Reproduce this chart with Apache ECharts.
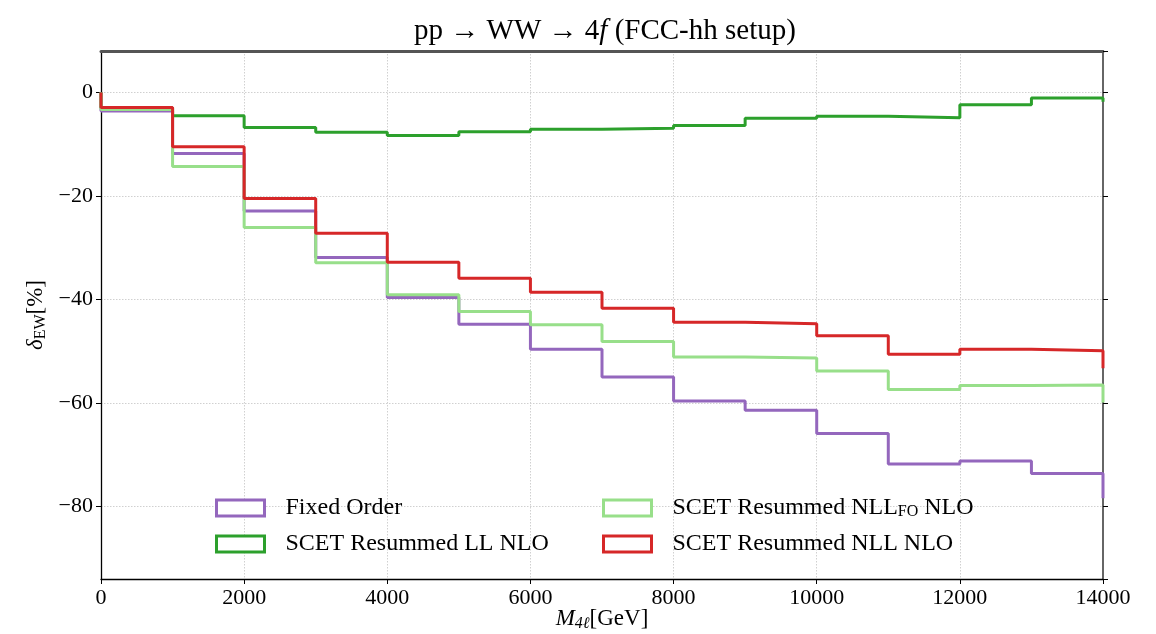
<!DOCTYPE html>
<html>
<head>
<meta charset="utf-8">
<title>pp → WW → 4f (FCC-hh setup)</title>
<script src="https://cdn.jsdelivr.net/npm/echarts@6/dist/echarts.min.js"></script>
<style>
  html, body { margin: 0; padding: 0; background: #ffffff; }
  #chart { width: 1156px; height: 634px; }
</style>
</head>
<body>
<div id="chart"></div>
<script>
// Lower edges of the M_4l bins (GeV)
const binLow = [0, 1000, 2000, 3000, 4000, 5000, 6000, 7000, 8000, 9000, 10000, 11000, 12000, 13000];
const binHigh = 14000;

// delta_EW [%] per bin; "tail" is the value of the bin that starts at 14000
const fixedOrder = [-3.6, -11.8, -22.9, -31.9, -39.6, -44.8, -49.6, -55.0, -59.6, -61.4, -65.9, -71.8, -71.2, -73.6];
const fixedOrderTail = -78.4;
const scetLL = [-3.0, -4.5, -6.8, -7.7, -8.3, -7.6, -7.1, -6.9, -6.4, -5.0, -4.6, -4.9, -2.4, -1.1];
const scetLLTail = -1.8;
const scetNLLFO = [-3.3, -14.3, -26.1, -32.9, -39.1, -42.3, -44.9, -48.1, -51.1, -51.3, -53.8, -57.4, -56.6, -56.5];
const scetNLLFOTail = -59.9;
const scetNLL = [-2.9, -10.5, -20.5, -27.2, -32.8, -35.9, -38.6, -41.7, -44.4, -44.7, -47.0, -50.6, -49.6, -49.9];
const scetNLLTail = -53.3;

const xTicks = [0, 2000, 4000, 6000, 8000, 10000, 12000, 14000];
const yTicks = [0, -20, -40, -60, -80];

const names = ['Fixed Order', 'SCET Resummed LL NLO', 'SCET Resummed NLL_FO NLO', 'SCET Resummed NLL NLO'];
const colors = ['#9467bd', '#2ca02c', '#98df8a', '#d62728'];

const FONT = '"Liberation Serif", "DejaVu Serif", serif';

// histogram outline: starts at 0 on the left edge, steps through each bin
function stepData(bins, tail) {
  const pts = [[binLow[0], 0]];
  binLow.forEach((x, i) => pts.push([x, bins[i]]));
  pts.push([binHigh, tail]);
  return pts;
}

const seriesSets = [
  [fixedOrder, fixedOrderTail],
  [scetLL, scetLLTail],
  [scetNLLFO, scetNLLFOTail],
  [scetNLL, scetNLLTail]
];

const series = seriesSets.map((s, i) => ({
  name: names[i],
  type: 'line',
  step: 'end',
  data: stepData(s[0], s[1]),
  symbol: 'none',
  lineStyle: { color: colors[i], width: 3 },
  itemStyle: { color: colors[i] },
  clip: true,
  animation: false,
  z: 2 + i
}));

function legendItem(i) {
  return {
    name: names[i],
    icon: 'rect',
    itemStyle: { color: '#ffffff', borderColor: colors[i], borderWidth: 3 }
  };
}

const legendRich = {
  g: { width: 16, fontFamily: FONT, fontSize: 24, lineHeight: 24 },
  n: { fontFamily: FONT, fontSize: 24, color: '#000', lineHeight: 24 },
  s: { fontFamily: FONT, fontSize: 16, color: '#000', lineHeight: 14, verticalAlign: 'bottom' }
};

function legendFormatter(name) {
  if (name.indexOf('_FO') >= 0) {
    return '{g|}{n|SCET Resummed NLL}{s|FO}{n| NLO}';
  }
  return '{g|}{n|' + name + '}';
}

const baseLegend = {
  orient: 'vertical',
  itemWidth: 48,
  itemHeight: 16,
  itemGap: 12,
  top: 491,
  selectedMode: false,
  formatter: legendFormatter,
  textStyle: { fontFamily: FONT, fontSize: 24, color: '#000', rich: legendRich }
};

const minus = v => (v < 0 ? '\u2212' + Math.abs(v) : String(v));

const option = {
  backgroundColor: '#ffffff',
  animation: false,
  title: {
    text: '{n|pp \u2192 WW \u2192 4}{i|f}{n| (FCC-hh setup)}',
    left: 600,
    top: 12,
    textAlign: 'center',
    textStyle: {
      fontWeight: 'normal',
      rich: {
        n: { fontFamily: FONT, fontSize: 29, fontWeight: 'normal', color: '#000' },
        i: { fontFamily: FONT, fontSize: 29, fontWeight: 'normal', fontStyle: 'italic', color: '#000' }
      }
    }
  },
  grid: { left: 101, right: 53, top: 51, bottom: 55, containLabel: false, outerBoundsMode: 'none' },
  legend: [
    Object.assign({}, baseLegend, { left: 210, data: [legendItem(0), legendItem(1)] }),
    Object.assign({}, baseLegend, { left: 597, data: [legendItem(2), legendItem(3)] })
  ],
  xAxis: [
    {
      type: 'value',
      position: 'bottom',
      min: xTicks[0],
      max: xTicks[xTicks.length - 1],
      interval: 2000,
      name: '{i|M}{s|4\u2113}{n|[GeV]}',
      nameLocation: 'middle',
      nameGap: 27,
      nameMoveOverlap: false,
      nameTextStyle: {
        rich: {
          i: { fontFamily: FONT, fontSize: 23, fontStyle: 'italic', color: '#000', lineHeight: 26 },
          s: { fontFamily: FONT, fontSize: 16, fontStyle: 'italic', color: '#000', lineHeight: 16, verticalAlign: 'bottom' },
          n: { fontFamily: FONT, fontSize: 23, color: '#000', lineHeight: 26 }
        }
      },
      axisLine: { show: true, onZero: false, lineStyle: { color: '#000', width: 1.3 } },
      axisTick: { show: true, inside: false, length: 5, lineStyle: { color: '#000', width: 1 } },
      axisLabel: { margin: 8, fontFamily: FONT, fontSize: 22, color: '#000', formatter: v => String(v) },
      splitLine: { show: true, lineStyle: { color: '#d0d0d0', width: 1, type: [1.5, 1.5] } }
    },
    {
      type: 'value',
      position: 'top',
      min: xTicks[0],
      max: xTicks[xTicks.length - 1],
      interval: 2000,
      axisLine: { show: true, onZero: false, lineStyle: { color: '#555', width: 3 } },
      axisTick: { show: false },
      axisLabel: { show: false },
      splitLine: { show: false }
    }
  ],
  yAxis: [
    {
      type: 'value',
      position: 'left',
      min: -94,
      max: 8,
      splitNumber: 5,
      name: '{i|\u03b4}{s|EW}{n|[%]}',
      nameLocation: 'middle',
      nameGap: 52,
      nameMoveOverlap: false,
      nameRotate: 90,
      nameTextStyle: {
        rich: {
          i: { fontFamily: FONT, fontSize: 23, fontStyle: 'italic', color: '#000', lineHeight: 26 },
          s: { fontFamily: FONT, fontSize: 16, color: '#000', lineHeight: 16, verticalAlign: 'bottom' },
          n: { fontFamily: FONT, fontSize: 23, color: '#000', lineHeight: 26 }
        }
      },
      axisLine: { show: true, onZero: false, lineStyle: { color: '#000', width: 1.3 } },
      axisTick: { show: true, inside: false, length: 5, lineStyle: { color: '#000', width: 1 } },
      axisLabel: {
        margin: 8, fontFamily: FONT, fontSize: 22, color: '#000',
        showMinLabel: false, showMaxLabel: false,
        formatter: v => (yTicks.indexOf(v) >= 0 ? minus(v) : '')
      },
      splitLine: { show: true, lineStyle: { color: '#d0d0d0', width: 1, type: [1.5, 1.5] } }
    },
    {
      type: 'value',
      position: 'right',
      min: -94,
      max: 8,
      splitNumber: 5,
      axisLine: { show: true, onZero: false, lineStyle: { color: '#666', width: 2 } },
      axisTick: { show: true, inside: false, length: 5, lineStyle: { color: '#000', width: 1 } },
      axisLabel: { show: false },
      splitLine: { show: false }
    }
  ],
  series: series
};

const chart = echarts.init(document.getElementById('chart'), null, { renderer: 'canvas' });
chart.setOption(option);
</script>
</body>
</html>
